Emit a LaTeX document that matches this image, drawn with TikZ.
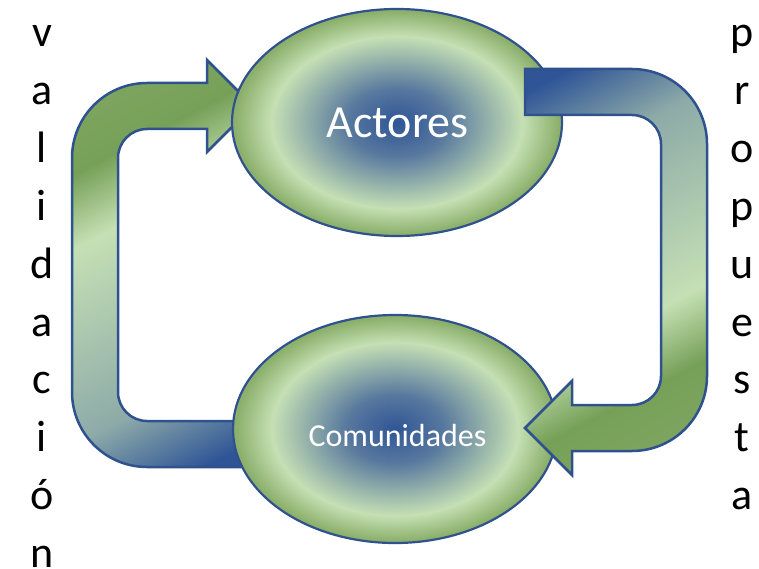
\documentclass[tikz,border=0pt]{standalone}
\usepackage{fontspec}
\setmainfont{Carlito}
\usetikzlibrary{shapes.geometric}
\definecolor{gblue}{RGB}{47,85,151}
\definecolor{gblue2}{RGB}{88,120,158}
\definecolor{ggrey}{RGB}{141,170,168}
\definecolor{glight}{RGB}{197,224,180}
\definecolor{gdark}{RGB}{118,160,88}
\definecolor{gdark2}{RGB}{126,165,96}
\definecolor{egreen}{RGB}{140,176,108}
\definecolor{edge}{RGB}{47,82,143}
\pgfdeclareverticalshading{arrgrad}{100bp}{color(0bp)=(gblue); color(30bp)=(gblue); color(38bp)=(ggrey); color(55.4bp)=(glight); color(62bp)=(gdark); color(68bp)=(gdark2); color(100bp)=(gdark2)}
\pgfdeclareradialshading{ellgrad}{\pgfpoint{0bp}{0bp}}{color(0bp)=(gblue); color(7.5bp)=(gblue2); color(19bp)=(glight); color(24.5bp)=(egreen); color(50bp)=(egreen)}
\tikzset{
  arrowline/.style={draw=edge, line width=2.5pt, line join=miter},
  ellbox/.style={ellipse, draw=edge, line width=2.2pt, shading=ellgrad, inner sep=0pt},
  sideletter/.style={anchor=base, inner sep=0pt, font=\fontsize{44}{44}\selectfont},
  whitetext/.style={anchor=base, inner sep=0pt, text=white}
}
\begin{document}
\begin{tikzpicture}[x=1pt,y=-1pt]
\useasboundingbox (0,0) rectangle (759,569);
% left arrow (under the ellipses)
\begin{scope}
\clip (253,106) -- (207,152) -- (207,129) -- (147,129)
  .. controls (131,129) and (118,142) .. (118,158) -- (118,392)
  .. controls (118,408) and (131,421) .. (147,421) -- (250,421) -- (250,467) -- (147,467)
  .. controls (105.6,467) and (72,433.4) .. (72,392) -- (72,158)
  .. controls (72,116.6) and (105.6,83) .. (147,83) -- (207,83) -- (207,60) -- cycle;
\begin{scope}[transform canvas={rotate around={27.6:(162.5,263.5)}}]
\shade[shading=arrgrad] (-97.5,13.5) rectangle (422.5,513.5);
\end{scope}
\end{scope}
\path[arrowline] (253,106) -- (207,152) -- (207,129) -- (147,129)
  .. controls (131,129) and (118,142) .. (118,158) -- (118,392)
  .. controls (118,408) and (131,421) .. (147,421) -- (250,421) -- (250,467) -- (147,467)
  .. controls (105.6,467) and (72,433.4) .. (72,392) -- (72,158)
  .. controls (72,116.6) and (105.6,83) .. (147,83) -- (207,83) -- (207,60) -- cycle;
% ellipses
\node[ellbox, minimum width=330pt, minimum height=227pt] (act) at (397,122.5) {};
\node[ellbox, minimum width=324pt, minimum height=228pt] (com) at (395,429) {};
% right arrow (over the ellipses)
\begin{scope}
\clip (525,69) -- (632,69) .. controls (673.4,69) and (707,102.6) .. (707,144) -- (707,376)
  .. controls (707,417.4) and (673.4,451) .. (632,451) -- (572,451) -- (572,475) -- (525,428)
  -- (572,381) -- (572,405) -- (632,405) .. controls (648,405) and (661,392) .. (661,376)
  -- (661,144) .. controls (661,128) and (648,115) .. (632,115) -- (525,115) -- cycle;
\begin{scope}[transform canvas={rotate around={207.6:(616.5,270.5)}}]
\shade[shading=arrgrad] (356.5,20.5) rectangle (876.5,520.5);
\end{scope}
\end{scope}
\path[arrowline] (525,69) -- (632,69) .. controls (673.4,69) and (707,102.6) .. (707,144) -- (707,376)
  .. controls (707,417.4) and (673.4,451) .. (632,451) -- (572,451) -- (572,475) -- (525,428)
  -- (572,381) -- (572,405) -- (632,405) .. controls (648,405) and (661,392) .. (661,376)
  -- (661,144) .. controls (661,128) and (648,115) .. (632,115) -- (525,115) -- cycle;
% texts
\node[whitetext, font=\fontsize{46}{46}\selectfont] (actT) at (397.5,138) {Actores};
\node[whitetext, font=\fontsize{32}{32}\selectfont] (comT) at (397.5,446) {Comunidades};
\foreach \c [count=\k from 0] in {v,a,l,i,d,a,c,i,ó,n}
  \node[sideletter] (val\k) at (42,47+57.8*\k) {\c};
\foreach \c [count=\k from 0] in {p,r,o,p,u,e,s,t,a}
  \node[sideletter] (pro\k) at (742,47+57.8*\k) {\c};
\end{tikzpicture}
\end{document}
